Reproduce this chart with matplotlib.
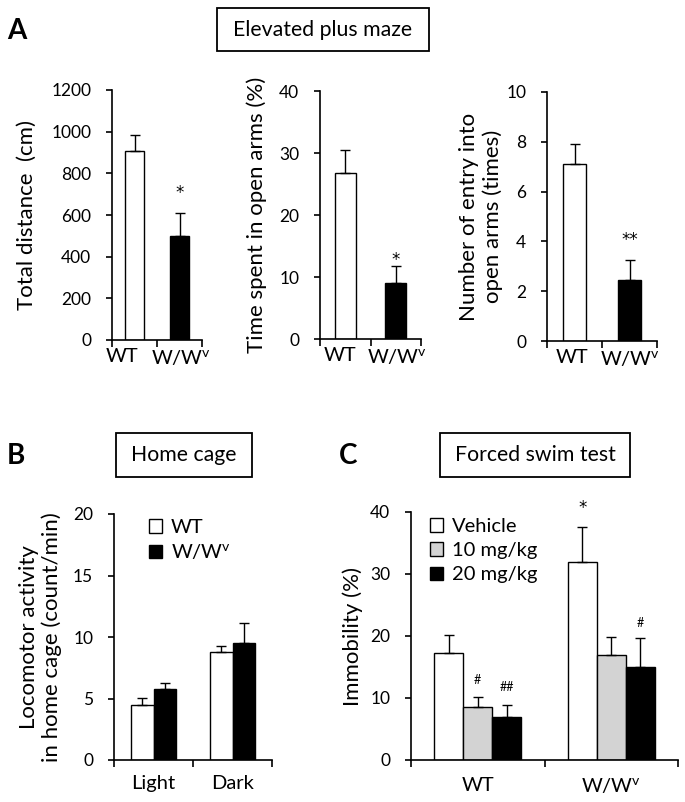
import matplotlib

matplotlib.use("Agg")
import matplotlib.pyplot as plt
from matplotlib.patches import Rectangle
import numpy as np

plt.rcParams["font.family"] = ["Lato", "DejaVu Sans"]
plt.rcParams["font.size"] = 14
plt.rcParams["axes.linewidth"] = 1.2

# data
genotypes = ["WT", "W/W$^{\\mathregular{v}}$"]
distance_mean = [908, 498]
distance_err = [77, 110]
distance_marks = ["", "*"]
distance_mark_y = [0, 705]

open_time_mean = [26.8, 9.0]
open_time_err = [3.7, 2.8]
open_time_marks = ["", "*"]
open_time_mark_y = [0, 12.7]

open_entry_mean = [7.1, 2.45]
open_entry_err = [0.8, 0.8]
open_entry_marks = ["", "**"]
open_entry_mark_y = [0, 4.05]

phases = ["Light", "Dark"]
home_labels = ["WT", "W/W$^{\\mathregular{v}}$"]
home_wt_mean = [4.5, 8.8]
home_wt_err = [0.55, 0.5]
home_wv_mean = [5.8, 9.5]
home_wv_err = [0.5, 1.65]

doses = ["Vehicle", "10 mg/kg", "20 mg/kg"]
swim_wt_mean = [17.3, 8.6, 7.0]
swim_wt_err = [2.9, 1.5, 1.9]
swim_wv_mean = [32.0, 16.9, 15.0]
swim_wv_err = [5.6, 3.0, 4.7]
swim_wt_marks = ["", "#", "##"]
swim_wt_mark_y = [0, 12.9, 11.8]
swim_wv_marks = ["*", "", "#"]
swim_wv_mark_y = [40.6, 0, 22.1]

W, H = 685, 802


def pos(left, right, top, bottom):
    return [left / W, 1 - bottom / H, (right - left) / W, (bottom - top) / H]


def style_axis(ax, ymax, ystep, labels, xpad, label_x=None):
    ax.set_xlim(0, len(labels))
    ax.set_ylim(0, ymax)
    ax.set_yticks(np.arange(0, ymax + ystep / 2, ystep))
    if label_x is None:
        label_x = np.arange(len(labels)) + 0.5
    ax.set_xticks(label_x)
    ax.set_xticklabels(labels)
    ax.set_xticks(np.arange(len(labels) + 1), minor=True)
    ax.tick_params(axis="x", which="major", length=0, pad=xpad, labelsize=14.5)
    ax.tick_params(axis="x", which="minor", length=5, width=1.2)
    ax.tick_params(axis="y", length=4, width=1.2, pad=11, labelsize=12.5)
    ax.spines[["top", "right"]].set_visible(False)


def draw_bars(ax, x, mean, err, color, width):
    ax.bar(x, mean, width, color=color, edgecolor="black", linewidth=1.0, zorder=2)
    ax.errorbar(x, mean, yerr=[np.zeros(len(err)), err], fmt="none", ecolor="black",
                elinewidth=1.0, capsize=3.5, capthick=1.0, zorder=3)


def draw_marks(ax, x, marks, ys, size=12, family="DejaVu Sans"):
    for xi, m, yi in zip(x, marks, ys):
        if m:
            ax.text(xi, yi, m, ha="center", va="center", fontsize=size, family=family,
                    clip_on=False)


def title_box(fig, left, right, top, bottom, text):
    fig.patches.append(Rectangle((left / W, 1 - bottom / H), (right - left) / W,
                                 (bottom - top) / H, transform=fig.transFigure,
                                 facecolor="white", edgecolor="black", linewidth=1.3))
    fig.text((left + right) / 2 / W, 1 - (top + bottom) / 2 / H, text,
             ha="center", va="center", fontsize=15.3)


fig = plt.figure(figsize=(6.85, 8.02), dpi=100)

# A: elevated plus maze
x = np.arange(2) + 0.5
panels_a = [
    (pos(112, 202, 90, 340), distance_mean, distance_err, distance_marks, distance_mark_y,
     1200, 200, "Total distance  (cm)", -0.83, [0.22, 1.53]),
    (pos(320, 421, 91, 339), open_time_mean, open_time_err, open_time_marks, open_time_mark_y,
     40, 10, "Time spent in open arms (%)", -0.52, [0.40, 1.52]),
    (pos(547, 657, 92, 341), open_entry_mean, open_entry_err, open_entry_marks, open_entry_mark_y,
     10, 2, "Number of entry into\nopen arms (times)", -0.40, [0.45, 1.51]),
]
for rect, mean, err, marks, mark_y, ymax, ystep, ylabel, lx, tick_x in panels_a:
    ax = fig.add_axes(rect)
    for xi, m, e, c in zip(x, mean, err, ["white", "black"]):
        draw_bars(ax, [xi], [m], [e], c, 0.42)
    draw_marks(ax, x, marks, mark_y)
    style_axis(ax, ymax, ystep, genotypes, 6, tick_x)
    ax.set_ylabel(ylabel, fontsize=16, linespacing=1.2)
    ax.yaxis.set_label_coords(lx, 0.5)

# B: home cage
ax = fig.add_axes(pos(114, 272, 514, 760))
bw = 0.29
draw_bars(ax, x - bw / 2, home_wt_mean, home_wt_err, "white", bw)
draw_bars(ax, x + bw / 2, home_wv_mean, home_wv_err, "black", bw)
style_axis(ax, 20, 5, phases, 11)
ax.set_ylabel("Locomotor activity\nin home cage (count/min)", fontsize=16, linespacing=1.15)
ax.yaxis.set_label_coords(-0.33, 0.5)
handles = [Rectangle((0, 0), 1, 1, facecolor=c, edgecolor="black", linewidth=1.0)
           for c in ["white", "black"]]
ax.legend(handles, home_labels, loc="upper left", bbox_to_anchor=(0.22, 0.98), frameon=False,
          handlelength=0.65, handleheight=0.65, handletextpad=0.45, labelspacing=0.3,
          fontsize=14.5, borderaxespad=0, borderpad=0)

# C: forced swim test
ax = fig.add_axes(pos(411, 678, 512, 760))
bw = 0.218
offsets = np.array([-1, 0, 1]) * bw
dose_colors = ["white", "#D3D3D3", "black"]
for i, c in enumerate(dose_colors):
    draw_bars(ax, x + offsets[i], [swim_wt_mean[i], swim_wv_mean[i]],
              [swim_wt_err[i], swim_wv_err[i]], c, bw)
draw_marks(ax, x[0] + offsets, swim_wt_marks, swim_wt_mark_y, size=9, family="Lato")
draw_marks(ax, x[1] + offsets, swim_wv_marks[:1] + [""] * 2, swim_wv_mark_y)
draw_marks(ax, x[1] + offsets, [""] * 2 + swim_wv_marks[2:], swim_wv_mark_y, size=9,
           family="Lato")
style_axis(ax, 40, 10, genotypes, 12)
ax.set_ylabel("Immobility (%)", fontsize=16)
ax.yaxis.set_label_coords(-0.18, 0.5)
handles = [Rectangle((0, 0), 1, 1, facecolor=c, edgecolor="black", linewidth=1.0)
           for c in dose_colors]
ax.legend(handles, doses, loc="upper left", bbox_to_anchor=(0.07, 0.975), frameon=False,
          handlelength=0.65, handleheight=0.65, handletextpad=0.45, labelspacing=0.35,
          fontsize=14.5, borderaxespad=0, borderpad=0)

# title boxes and panel letters
title_box(fig, 217, 429, 8, 51, "Elevated plus maze")
title_box(fig, 116, 252, 433, 477, "Home cage")
title_box(fig, 440, 630, 433, 477, "Forced swim test")
for letter, px, py in [("A", 17, 31), ("B", 16, 456), ("C", 348, 456)]:
    fig.text(px / W, 1 - py / H, letter, ha="center", va="center", fontsize=20,
             fontweight="bold")

fig.savefig("out.png", dpi=100)
